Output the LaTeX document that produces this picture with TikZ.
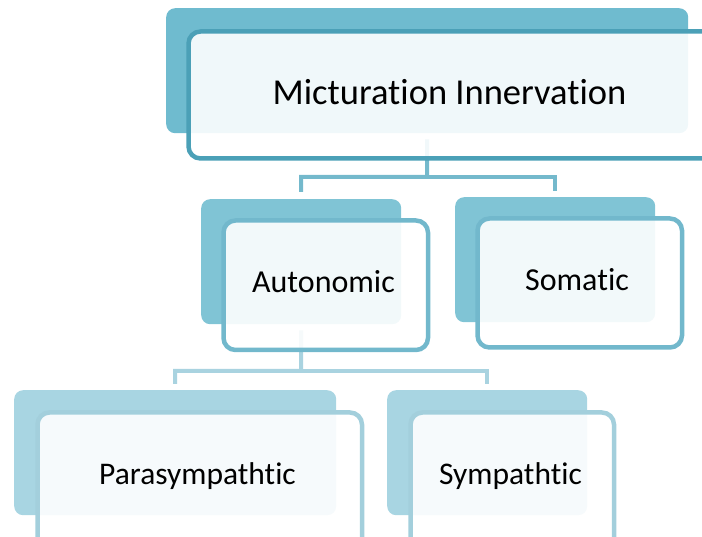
\documentclass[tikz,border=0pt]{standalone}
\usepackage{fontspec}
\setmainfont{Carlito}[Ligatures=NoCommon]
\begin{document}
\begin{tikzpicture}[x=1pt,y=-1pt,
  back/.style={rectangle,rounded corners=9pt,inner sep=0pt,anchor=north west},
  front/.style={rectangle,rounded corners=12pt,inner sep=0pt,anchor=north west,fill=white,fill opacity=0.9,text opacity=1,line width=4.5pt},
  conn/.style={line width=4pt},
  lab/.style={anchor=base,inner sep=0pt,text=black}
]
\definecolor{backA}{HTML}{6FBBCF}
\definecolor{strokeA}{HTML}{4BA0B7}
\definecolor{backB}{HTML}{80C4D5}
\definecolor{strokeB}{HTML}{72B8CC}
\definecolor{connA}{HTML}{74B9CC}
\definecolor{backC}{HTML}{A8D5E2}
\definecolor{strokeC}{HTML}{A3CFDC}
\definecolor{connB}{HTML}{A9D3E0}
\useasboundingbox (0,0) rectangle (702,537);
\begin{scope}
\clip (0,0) rectangle (702,537);
% back rectangles
\node[back,fill=backA,minimum width=522pt,minimum height=125pt] (topback) at (166,8) {};
\node[back,fill=backB,minimum width=200pt,minimum height=125pt] (autback) at (201,199) {};
\node[back,fill=backB,minimum width=200pt,minimum height=125pt] (somback) at (455,197) {};
\node[back,fill=backC,minimum width=322pt,minimum height=125pt] (parback) at (14,390) {};
\node[back,fill=backC,minimum width=200pt,minimum height=125pt] (symback) at (387,390) {};
% connectors
\coordinate (j1) at (427,177);
\coordinate (j2) at (301,371);
\draw[conn,connA,shorten <=6pt,shorten >=7pt] (topback.south) -- (j1) -| (autback.north);
\draw[conn,connA,shorten >=6pt] (j1) -| (somback.north);
\draw[conn,connB,shorten <=6pt,shorten >=6pt] (autback.south) -- (j2) -| (parback.north);
\draw[conn,connB,shorten >=6pt] (j2) -| (symback.north);
% front boxes
\node[front,draw=strokeA,minimum width=536pt,minimum height=127pt] (topbox) at (186.25,29.25) {};
\node[front,draw=strokeB,minimum width=204.5pt,minimum height=129.5pt] (autbox) at (221.25,218.25) {};
\node[front,draw=strokeB,minimum width=204.5pt,minimum height=129pt] (sombox) at (475.25,216.25) {};
\node[front,draw=strokeC,minimum width=324.5pt,minimum height=140pt] (parbox) at (35.25,410.25) {};
\node[front,draw=strokeC,minimum width=203.5pt,minimum height=140pt] (symbox) at (408.25,410.25) {};
\end{scope}
% labels
\node[lab,font=\fontsize{36.5}{40}\selectfont] (toplab) at (449.5,105) {Micturation Innervation};
\node[lab,font=\fontsize{32}{36}\selectfont] (autlab) at (323.5,293) {Autonomic};
\node[lab,font=\fontsize{32}{36}\selectfont] (somlab) at (577,291) {Somatic};
\node[lab,font=\fontsize{31.5}{36}\selectfont] (parlab) at (197.5,484) {Parasympathtic};
\node[lab,font=\fontsize{31.5}{36}\selectfont] (symlab) at (510.5,484) {Sympathtic};
\end{tikzpicture}
\end{document}
